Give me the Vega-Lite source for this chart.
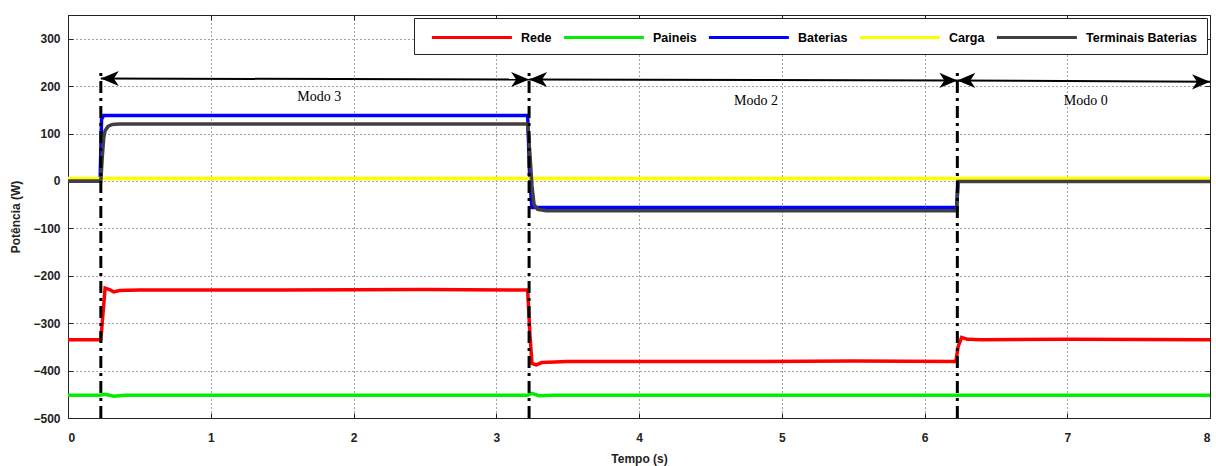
{
  "$schema": "https://vega.github.io/schema/vega-lite/v6.json",
  "width": 1142,
  "height": 403,
  "autosize": {"type": "none"},
  "padding": {"left": 68, "top": 15, "right": 6, "bottom": 48},
  "background": "white",
  "config": {
    "view": {"stroke": "#222", "strokeWidth": 1},
    "font": "Liberation Sans",
    "axis": {
      "labelFont": "Liberation Sans", "labelFontWeight": "bold", "labelFontSize": 12, "labelColor": "#222",
      "titleFont": "Liberation Sans", "titleFontWeight": "bold", "titleFontSize": 12, "titleColor": "#222",
      "domainColor": "#222", "tickColor": "#222", "tickSize": -5,
      "grid": true, "gridDash": [1, 3], "gridColor": "#333", "gridOpacity": 0.9, "gridWidth": 1
    }
  },
  "resolve": {"axis": {"x": "independent", "y": "independent"}},
  "datasets": {
    "series": [
      {"t": 0, "p": -335, "s": "Rede"}, {"t": 0.23, "p": -335, "s": "Rede"}, {"t": 0.245, "p": -280, "s": "Rede"},
      {"t": 0.26, "p": -226, "s": "Rede"}, {"t": 0.29, "p": -229, "s": "Rede"}, {"t": 0.32, "p": -234, "s": "Rede"},
      {"t": 0.36, "p": -231, "s": "Rede"}, {"t": 0.5, "p": -230, "s": "Rede"}, {"t": 1.5, "p": -230, "s": "Rede"},
      {"t": 2.5, "p": -229, "s": "Rede"}, {"t": 3.22, "p": -230, "s": "Rede"}, {"t": 3.235, "p": -320, "s": "Rede"},
      {"t": 3.25, "p": -385, "s": "Rede"}, {"t": 3.28, "p": -388, "s": "Rede"}, {"t": 3.32, "p": -383, "s": "Rede"},
      {"t": 3.5, "p": -381, "s": "Rede"}, {"t": 4.5, "p": -381, "s": "Rede"}, {"t": 5.5, "p": -380, "s": "Rede"},
      {"t": 6.22, "p": -381, "s": "Rede"}, {"t": 6.235, "p": -350, "s": "Rede"}, {"t": 6.26, "p": -330, "s": "Rede"},
      {"t": 6.3, "p": -334, "s": "Rede"}, {"t": 6.4, "p": -335, "s": "Rede"}, {"t": 7, "p": -334, "s": "Rede"},
      {"t": 8, "p": -335, "s": "Rede"},
      {"t": 0, "p": -452, "s": "Paineis"}, {"t": 0.22, "p": -452, "s": "Paineis"}, {"t": 0.26, "p": -450, "s": "Paineis"},
      {"t": 0.32, "p": -454, "s": "Paineis"}, {"t": 0.4, "p": -452, "s": "Paineis"}, {"t": 3.22, "p": -452, "s": "Paineis"},
      {"t": 3.25, "p": -448, "s": "Paineis"}, {"t": 3.3, "p": -453, "s": "Paineis"}, {"t": 3.4, "p": -452, "s": "Paineis"},
      {"t": 8, "p": -452, "s": "Paineis"},
      {"t": 0, "p": 0, "s": "Baterias"}, {"t": 0.225, "p": 0, "s": "Baterias"}, {"t": 0.235, "p": 130, "s": "Baterias"},
      {"t": 0.25, "p": 138, "s": "Baterias"}, {"t": 3.22, "p": 138, "s": "Baterias"}, {"t": 3.235, "p": 0, "s": "Baterias"},
      {"t": 3.25, "p": -56, "s": "Baterias"}, {"t": 6.225, "p": -56, "s": "Baterias"}, {"t": 6.235, "p": 0, "s": "Baterias"},
      {"t": 8, "p": 0, "s": "Baterias"},
      {"t": 0, "p": 5, "s": "Carga"}, {"t": 8, "p": 5, "s": "Carga"},
      {"t": 0, "p": 0, "s": "Terminais Baterias"}, {"t": 0.23, "p": 0, "s": "Terminais Baterias"},
      {"t": 0.24, "p": 50, "s": "Terminais Baterias"}, {"t": 0.25, "p": 90, "s": "Terminais Baterias"},
      {"t": 0.26, "p": 106, "s": "Terminais Baterias"}, {"t": 0.28, "p": 115, "s": "Terminais Baterias"},
      {"t": 0.31, "p": 119, "s": "Terminais Baterias"}, {"t": 0.36, "p": 120, "s": "Terminais Baterias"},
      {"t": 3.22, "p": 120, "s": "Terminais Baterias"}, {"t": 3.235, "p": 60, "s": "Terminais Baterias"},
      {"t": 3.25, "p": -10, "s": "Terminais Baterias"}, {"t": 3.265, "p": -50, "s": "Terminais Baterias"},
      {"t": 3.29, "p": -60, "s": "Terminais Baterias"}, {"t": 3.35, "p": -63, "s": "Terminais Baterias"},
      {"t": 6.225, "p": -63, "s": "Terminais Baterias"}, {"t": 6.235, "p": -1, "s": "Terminais Baterias"},
      {"t": 8, "p": -1, "s": "Terminais Baterias"}
    ],
    "modes": [
      {"t": 0.23, "top": 235, "bottom": -500},
      {"t": 3.23, "top": 235, "bottom": -500},
      {"t": 6.23, "top": 235, "bottom": -500}
    ],
    "arrows": [
      {"x1": 0.23, "y1": 216, "x2": 3.23, "y2": 214},
      {"x1": 3.23, "y1": 214, "x2": 6.23, "y2": 212},
      {"x1": 6.23, "y1": 212, "x2": 8, "y2": 209}
    ],
    "heads": [
      {"x": 0.23, "y": 216, "dir": "left"}, {"x": 3.23, "y": 214, "dir": "right"},
      {"x": 3.23, "y": 214, "dir": "left"}, {"x": 6.23, "y": 212, "dir": "right"},
      {"x": 6.23, "y": 212, "dir": "left"}, {"x": 8, "y": 209, "dir": "right"}
    ],
    "labels": [
      {"x": 1.76, "y": 177, "txt": "Modo 3"},
      {"x": 4.82, "y": 168, "txt": "Modo 2"},
      {"x": 7.13, "y": 168, "txt": "Modo 0"}
    ]
  },
  "layer": [
    {
      "data": {"name": "series"},
      "mark": {"type": "line", "strokeWidth": 3.5, "clip": true},
      "encoding": {
        "x": {"field": "t", "type": "quantitative", "scale": {"domain": [0, 8], "nice": false},
              "axis": {"title": "Tempo (s)", "values": [0,1,2,3,4,5,6,7,8], "format": "d", "labelPadding": 19, "titlePadding": 10}},
        "y": {"field": "p", "type": "quantitative", "scale": {"domain": [-500, 350], "nice": false, "zero": false},
              "axis": {"title": "Potência (W)", "values": [-500,-400,-300,-200,-100,0,100,200,300], "format": "d", "labelPadding": 13, "titlePadding": 10}},
        "color": {"field": "s", "type": "nominal",
          "scale": {"domain": ["Rede", "Paineis", "Baterias", "Carga", "Terminais Baterias"],
                    "range": ["#ff0000", "#00ee00", "#0000ff", "#ffff00", "#404040"]},
          "sort": ["Rede", "Paineis", "Baterias", "Carga", "Terminais Baterias"],
          "legend": {
            "title": null, "orient": "top-right", "offset": 3, "direction": "horizontal",
            "symbolType": "M-0.2,0 L9.8,0", "symbolSize": 256, "symbolStrokeWidth": 3,
            "labelFont": "Liberation Sans", "labelFontWeight": "bold", "labelFontSize": 12.5, "labelColor": "#000",
            "labelOffset": 78, "columnPadding": 4, "padding": 10,
            "fillColor": "white", "strokeColor": "#222"
          }
        },
        "order": {"field": "t", "type": "quantitative"}
      }
    },
    {
      "data": {"name": "modes"},
      "mark": {"type": "rule", "strokeWidth": 3, "color": "black", "strokeDash": [12, 5, 3, 5]},
      "encoding": {
        "x": {"field": "t", "type": "quantitative",
              "axis": {"orient": "top", "values": [0,1,2,3,4,5,6,7,8], "labels": false, "title": null, "grid": false, "domain": false}},
        "y": {"field": "bottom", "type": "quantitative",
              "axis": {"orient": "right", "values": [-500,-400,-300,-200,-100,0,100,200,300], "labels": false, "title": null, "grid": false, "domain": false}},
        "y2": {"field": "top"}
      }
    },
    {
      "data": {"name": "arrows"},
      "mark": {"type": "rule", "strokeWidth": 2, "color": "black"},
      "encoding": {
        "x": {"field": "x1", "type": "quantitative", "axis": null},
        "x2": {"field": "x2"},
        "y": {"field": "y1", "type": "quantitative", "axis": null},
        "y2": {"field": "y2"}
      }
    },
    {
      "data": {"name": "heads"},
      "mark": {"type": "point", "filled": true, "opacity": 1, "color": "black", "size": 1296},
      "encoding": {
        "x": {"field": "x", "type": "quantitative", "axis": null},
        "y": {"field": "y", "type": "quantitative", "axis": null},
        "shape": {"field": "dir", "type": "nominal",
          "scale": {"domain": ["left", "right"],
                    "range": ["M0,0 L1,-0.42 L0.72,0 L1,0.42 Z", "M0,0 L-1,-0.42 L-0.72,0 L-1,0.42 Z"]},
          "legend": null}
      }
    },
    {
      "data": {"name": "labels"},
      "mark": {"type": "text", "font": "Liberation Serif", "fontSize": 14, "color": "black"},
      "encoding": {
        "x": {"field": "x", "type": "quantitative", "axis": null},
        "y": {"field": "y", "type": "quantitative", "axis": null},
        "text": {"field": "txt"}
      }
    }
  ]
}
